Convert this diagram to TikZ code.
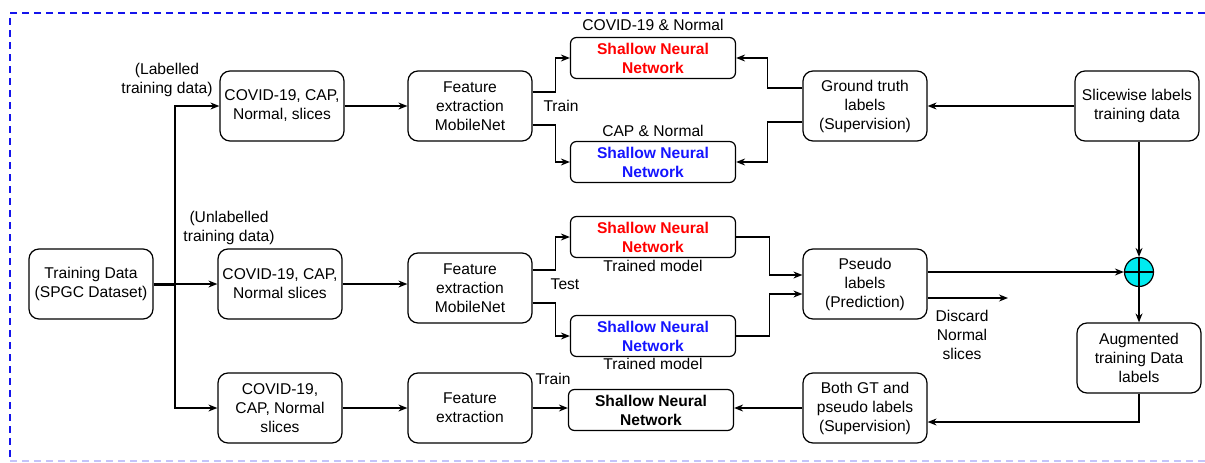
\documentclass[tikz,border=0pt]{standalone}
\usepackage{fontspec}
\setmainfont{Liberation Sans}
\usetikzlibrary{arrows.meta}

\definecolor{aqua}{RGB}{0,235,240}
\definecolor{snnred}{RGB}{255,0,0}
\definecolor{snnblue}{RGB}{20,20,255}
\definecolor{frameblue}{RGB}{20,20,235}

\tikzset{
  box/.style={draw, rounded corners=10pt, line width=1.2pt, align=center,
    minimum width=124pt, minimum height=70pt, inner sep=1pt},
  snn/.style={draw, rounded corners=6pt, line width=1.2pt, align=center,
    minimum width=165pt, minimum height=41pt, inner sep=1pt,
    font=\fontsize{15.6}{19}\selectfont\bfseries},
  lbl/.style={align=center, inner sep=0pt},
  arr/.style={-{Stealth[length=9pt,width=7pt]}, line width=1.2pt},
}

\begin{document}
\begin{tikzpicture}[x=1pt, y=-1pt, font=\fontsize{15.6}{19}\selectfont]

\useasboundingbox (0,0) rectangle (1205,463);

% frame
\draw[frameblue, line width=1.5pt, dash pattern=on 7pt off 5pt] (1205,13) -- (10,13) -- (10,461);
\draw[frameblue!25, line width=1.5pt, dash pattern=on 7pt off 5pt] (10,461) -- (1205,461);

% inputs
\node[box] (td) at (91,284) {Training Data\\(SPGC Dataset)};
\node[box] (in1) at (282,106) {COVID-19, CAP,\\Normal, slices};
\node[box] (in2) at (280,284) {COVID-19, CAP,\\Normal slices};
\node[box] (in3) at (280,408) {COVID-19,\\CAP, Normal\\slices};

% feature extraction
\node[box] (fe1) at (470,106) {Feature\\extraction\\MobileNet};
\node[box] (fe2) at (470,288) {Feature\\extraction\\MobileNet};
\node[box] (fe3) at (470,408) {Feature\\extraction};

% shallow networks
\node[snn, text=snnred] (snnA) at (653,58) {Shallow Neural\\Network};
\node[snn, text=snnblue] (snnB) at (653,162) {Shallow Neural\\Network};
\node[snn, text=snnred] (snnC) at (653,237) {Shallow Neural\\Network};
\node[snn, text=snnblue] (snnD) at (653,336) {Shallow Neural\\Network};
\node[snn] (snnE) at (651,410) {Shallow Neural\\Network};

% labels side
\node[box] (gt) at (865,106) {Ground truth\\labels\\(Supervision)};
\node[box] (sl) at (1137,106) {Slicewise labels\\training data};
\node[box] (pl) at (865,284) {Pseudo\\labels\\(Prediction)};
\node[box] (bgt) at (865,408) {Both GT and\\pseudo labels\\(Supervision)};
\node[box] (aug) at (1139,358) {Augmented\\training Data\\labels};
\node[draw, circle, fill=aqua, line width=1.2pt, minimum size=29pt, inner sep=0pt] (sum) at (1139,272) {};
\draw[line width=1.2pt] (sum.north) -- (sum.south) (sum.west) -- (sum.east);

% texts
\node[lbl] (lab1) at (167,80) {(Labelled\\training data)};
\node[lbl] (lab2) at (229,228) {(Unlabelled\\training data)};
\node[lbl] (tA) at (653,25) {COVID-19 \& Normal};
\node[lbl] (tB) at (653,131) {CAP \& Normal};
\node[lbl] (tr1) at (561,106) {Train};
\node[lbl] (te) at (565,284) {Test};
\node[lbl] (tmC) at (653,266) {Trained model};
\node[lbl] (tmD) at (653,364) {Trained model};
\node[lbl] (tr2) at (553,379) {Train};
\node[lbl] (disc) at (962,335) {Discard\\Normal\\slices};

% connectors
\coordinate (split) at (175,284);
\coordinate (dis) at (1008,298);
\draw[line width=3pt] (td.east) -- (split);
\draw[arr] (split) |- (in1.west);
\draw[arr] (split) -- (in2.west);
\draw[arr] (split) |- (in3.west);

\draw[arr] (in1.east) -- (fe1.west);
\draw[arr] (in2.east) -- (in2.east -| fe2.west);
\draw[arr] (in3.east) -- (fe3.west);

\draw[arr] ([yshift=14pt]fe1.east) -- ++(23,0) |- (snnA.west);
\draw[arr] ([yshift=-19pt]fe1.east) -- ++(23,0) |- (snnB.west);
\draw[arr] ([yshift=18pt]gt.west) -- ++(-35,0) |- (snnA.east);
\draw[arr] ([yshift=-16pt]gt.west) -- ++(-35,0) |- (snnB.east);
\draw[arr] (sl.west) -- (gt.east);
\draw[arr] (sl.south -| sum.north) -- (sum.north);

\draw[arr] ([yshift=18pt]fe2.east) -- ++(23,0) |- (snnC.west);
\draw[arr] ([yshift=-15pt]fe2.east) -- ++(23,0) |- (snnD.west);
\draw[arr] (snnC.east) -- ++(33,0) |- ([yshift=9pt]pl.west);
\draw[arr] (snnD.east) -- ++(33,0) |- ([yshift=-10pt]pl.west);
\draw[arr] (sum.west -| pl.east) -- (sum.west);
\draw[arr] ([yshift=-14pt]pl.east) -- (dis);
\draw[arr] (sum.south) -- (aug.north);

\draw[arr] (aug.south) |- ([yshift=-14pt]bgt.east);
\draw[arr] (bgt.west) -- (bgt.west -| snnE.east);
\draw[arr] (fe3.east) -- (fe3.east -| snnE.west);

\end{tikzpicture}
\end{document}
